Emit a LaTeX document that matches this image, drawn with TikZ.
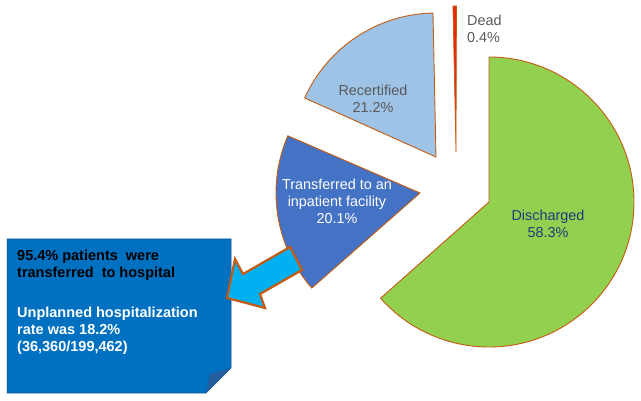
\documentclass[tikz,border=0pt]{standalone}
\usepackage{fontspec}
\setmainfont{Liberation Sans}
\begin{document}
\begin{tikzpicture}[x=1pt,y=-1pt,
  slice/.style={draw=sliceline,line width=0.9pt,line join=miter},
  lbl/.style={inner sep=0pt,align=center,font=\fontsize{14.4}{17}\selectfont},
  boxtxt/.style={inner sep=0pt,align=left,anchor=north west,font=\fontsize{14.5}{17.3}\selectfont\bfseries}]
\definecolor{sliceline}{HTML}{C55A11}
\definecolor{cgreen}{HTML}{92D050}
\definecolor{clight}{HTML}{9DC3E6}
\definecolor{cblue}{HTML}{4472C4}
\definecolor{cdead}{HTML}{E8280A}
\definecolor{cbox}{HTML}{0070C0}
\definecolor{cflap}{HTML}{245E9E}
\definecolor{carrow}{HTML}{00B0F0}
\definecolor{cgray}{HTML}{595959}
\definecolor{cnavy}{HTML}{1F3A7A}
\useasboundingbox (0,0) rectangle (641,401);
% apex coordinates
\coordinate (gA) at (489,202);
\coordinate (bA) at (420,193);
\coordinate (rA) at (436,157);
\coordinate (dA) at (456,152);
% slices
\path[slice,fill=cgreen] (gA) -- ++(-90:145) arc[start angle=-90,end angle=138.4,radius=145] -- cycle;
\path[slice,fill=cblue] (bA) -- ++(138.7:144) arc[start angle=138.7,end angle=203.4,radius=144] -- cycle;
\path[slice,fill=clight] (rA) -- ++(204.2:144) arc[start angle=204.2,end angle=268.8,radius=144] -- cycle;
\path[slice,fill=cdead,line width=0.7pt] (dA) -- ++(268.8:146) arc[start angle=268.8,end angle=270.2,radius=146] -- cycle;
% callout box with folded corner
\fill[cbox,draw=cflap!80!black,line width=0.5pt] (7,239) -- (231,239) -- (231,368) -- (206,393) -- (7,393) -- cycle;
\fill[cflap] (231,368) -- (210,374) -- (206,393) -- cycle;
% block arrow
\draw[fill=carrow,draw=sliceline,line width=2.2pt,line join=miter]
  (290,247) -- (243,274) -- (235,259) -- (227,298) -- (265,308) -- (260,294) -- (302,270) -- cycle;
% labels
\node[lbl,text=white] (ltrans) at (337,201) {Transferred to an\\inpatient facility\\20.1\%};
\node[lbl,text=cnavy] (ldis) at (548,224) {Discharged\\58.3\%};
\node[lbl,text=cgray] (lrec) at (373,99) {Recertified\\21.2\%};
\node[lbl,text=cgray,align=left,anchor=west] (ldead) at (467,28.5) {Dead\\0.4\%};
\node[boxtxt,text=black] (t1) at (17,249.5) {95.4\% patients\hspace{4pt} were\\transferred\hspace{4pt} to hospital};
\node[boxtxt,text=white] (t2) at (17,306.5) {Unplanned hospitalization\\rate was 18.2\%\\(36,360/199,462)};
\end{tikzpicture}
\end{document}
